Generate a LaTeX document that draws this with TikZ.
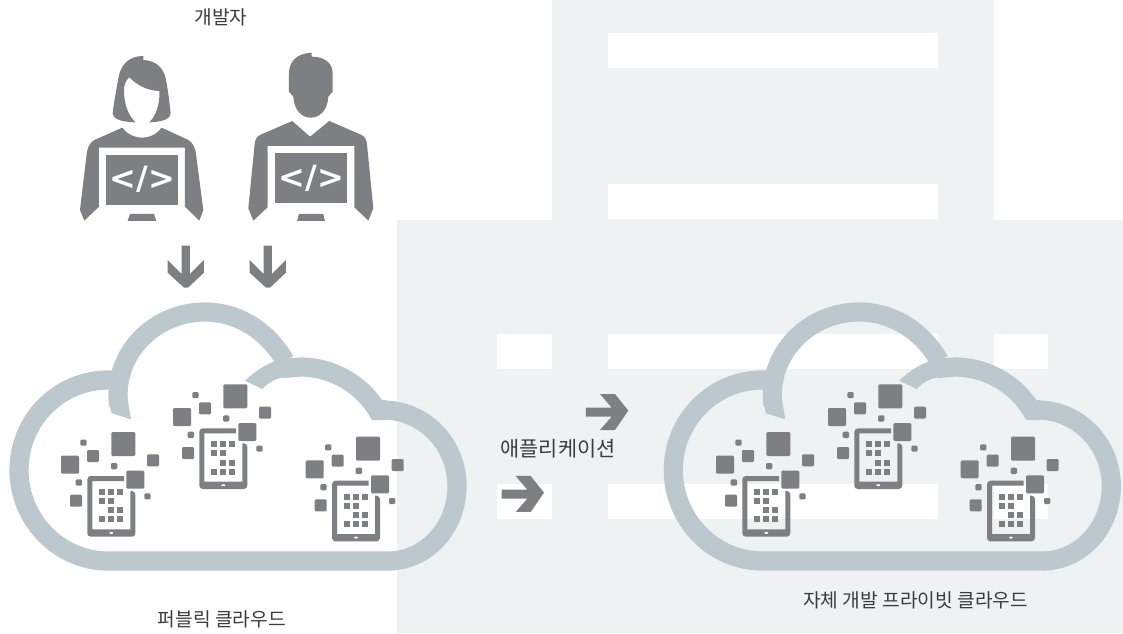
\documentclass[tikz,border=0pt]{standalone}
\usepackage{fontspec}
\setmainfont{Noto Sans CJK KR}
\newfontfamily\codefont{DejaVu Sans Bold}
\definecolor{icongray}{HTML}{7E7F83}
\definecolor{cloudblue}{HTML}{BCC8CE}
\definecolor{panelbg}{HTML}{EEF2F3}
\definecolor{labeltext}{HTML}{3C3C3C}
\tikzset{
  panel/.style={fill=panelbg,draw=none},
  gap/.style={fill=white,draw=none},
  icon/.style={fill=icongray,draw=none},
  chip/.style={fill=icongray,draw=none,rounded corners=1.2pt},
  cloudline/.style={draw=cloudblue,line width=19.2pt,line cap=butt,line join=bevel},
  cloudfill/.style={fill=cloudblue,draw=none},
  caption/.style={font=\fontsize{19.2}{21}\selectfont,text=labeltext,inner sep=0pt,anchor=center},
  widecaption/.style={font=\fontsize{20.8}{22}\selectfont,text=labeltext,inner sep=0pt,anchor=center},
  codetext/.style={font=\codefont\fontsize{32}{34}\selectfont,text=white,inner sep=0pt,anchor=center}
}
\newcommand{\tabletgroup}[2]{%
  \begin{scope}[shift={(#1,#2)}]
    \foreach \xa/\ya/\xb/\yb in {111.3/432/135.3/456,61/455.7/79/473.7,87/450/99/462,80.3/439.7/86.7/445.7,147/454.3/159/466.3,111/463/117.3/469.3,126.3/470.7/144.3/488.7,75.7/479.3/82/485.7,70/494.7/82/506.7,144.3/493.3/150.7/499.3}
      {\fill[chip] (\xa,\ya) rectangle (\xb,\yb);}
    \fill[icon,even odd rule] [rounded corners=3.5pt] (124,476) -- (87.3,476) -- (87.3,536.7) -- (135.3,536.7) -- (135.3,491) [sharp corners] -- (130.3,491) -- (130.3,529.3) -- (92.3,529.3) -- (92.3,481) -- (124,481) -- cycle;
    \foreach \cx/\ry in {99/489,108.3/489,117.3/489,99/498,108.3/498,108.3/507.3,117.3/507.3,99/516.3,108.3/516.3,117.3/516.3}
      {\fill[icon] (\cx,\ry) rectangle +(6,6);}
    \fill[white] (111.3,532.9) ellipse (2pt and 1pt);
  \end{scope}}
\newcommand{\cloudshape}[1]{%
  \begin{scope}[shift={(#1,0)}]
    \draw[cloudline] (120,380) -- (108,380) .. controls (59,380) and (19,420) .. (19,470) .. controls (19,520) and (59,561) .. (108,561) -- (388,561) .. controls (426,561) and (457,528) .. (457,486) .. controls (457,444) and (424,410) .. (383,410);
    \draw[cloudline] (380,415) .. controls (364,385) and (333,367) .. (300,367) -- (283,368.5);
    \fill[cloudfill] (383,400) -- (371.7,420) -- (386,420) -- (386,400) -- cycle;
    \fill[cloudfill] (284,358.5) .. controls (268,362) and (255,371) .. (245,380.7) -- (262.3,389) .. controls (268,383) and (276,378) .. (284,377.5) -- cycle;
    \draw[cloudline] (118.8,405) .. controls (118.2,401) and (118,398) .. (118,395) .. controls (118,349) and (157,312) .. (205,312) .. controls (238,312) and (268,331) .. (285,361);
    \fill[cloudfill] (109.2,404) -- (128.4,404) -- (131,419.3) -- (111.7,413.3) -- cycle;
  \end{scope}}
\begin{document}
\begin{tikzpicture}[x=1pt,y=-1pt]
\useasboundingbox (0,0) rectangle (1123,633);
% backdrop
\fill[panel] (552,0) rectangle (994,220);
\fill[panel] (397.3,219.7) rectangle (1123,633);
\foreach \xa/\ya/\xb/\yb in {607.7/33.3/938/68.3,607.7/184/938/218.7,497/334/552/369,607.7/334/938/369,993.7/334/1047.7/369,497/484.3/552/519,607.7/484.3/938/519,993.7/484.3/1047.7/519}
  {\fill[gap] (\xa,\ya) rectangle (\xb,\yb);}
% clouds
\cloudshape{0}
\cloudshape{654.3}
% tablets
\tabletgroup{0}{0}
\tabletgroup{112}{-47.7}
\tabletgroup{244.7}{4.7}
\tabletgroup{655}{0}
\tabletgroup{767}{-47.7}
\tabletgroup{899.7}{4.7}
% people
\begin{scope}[shift={(60,0)},x=0.3333pt,y=-0.3333pt]
  % woman
  \fill[icon] (250,168) .. controls (205,168) and (182,195) .. (175,235) .. controls (168,275) and (162,305) .. (158,340) .. controls (158,355) and (180,366) .. (226,367) .. controls (205,345) and (193,315) .. (192,275) .. controls (191,255) and (198,240) .. (208,232) .. controls (230,255) and (262,272) .. (298,273) .. controls (300,310) and (290,345) .. (268,367) .. controls (310,366) and (332,355) .. (332,340) .. controls (328,305) and (325,275) .. (318,240) .. controls (312,205) and (290,182) .. (250,180) -- cycle;
  \fill[icon] (187,383) .. controls (200,402) and (225,413) .. (247,413) .. controls (270,413) and (292,402) .. (305,383) -- (385,420) .. controls (398,428) and (405,440) .. (408,462) -- (430,630) -- (418,662) -- (375,620) -- (375,443) -- (117,443) -- (117,620) -- (73,662) -- (60,630) -- (80,462) .. controls (83,440) and (90,428) .. (103,420) -- cycle;
  \fill[icon] (137,465) rectangle (353,615);
  \fill[icon] (210,642) -- (282,642) -- (289,663) -- (203,663) -- cycle;
  % man
  \fill[icon] (755,158) .. controls (710,160) and (687,185) .. (687,220) -- (687,275) -- (700,290) .. controls (702,330) and (725,353) .. (752,353) .. controls (780,353) and (803,330) .. (805,290) -- (818,275) -- (818,220) .. controls (818,190) and (795,170) .. (755,170) -- cycle;
  \fill[icon] (697,363) -- (750,410) -- (808,363) -- (905,405) .. controls (915,410) and (920,420) .. (921,432) -- (940,625) -- (925,662) -- (883,622) -- (883,438) -- (623,438) -- (623,622) -- (580,662) -- (565,625) -- (584,432) .. controls (585,420) and (590,410) .. (600,405) -- cycle;
  \fill[icon] (644,459) rectangle (861,610);
  \fill[icon] (717,642) -- (790,642) -- (795,663) -- (711,663) -- cycle;
  % down arrows
  \foreach \dx in {0,246}{
    \fill[icon,shift={(\dx,0)}] (365,737) -- (390,737) -- (390,822) -- (432,780) -- (432,818) -- (384,863) -- (372,863) -- (323,818) -- (323,780) -- (365,822) -- cycle;}
  \node[codetext] (codeA) at (247,538) {</>};
  \node[codetext] (codeB) at (755,534) {</>};
\end{scope}
% right arrows
\begin{scope}[shift={(480,320)},x=0.3333pt,y=-0.3333pt]
  \foreach \dx/\dy in {0/0,-253/246}{
    \fill[icon,shift={(\dx,\dy)}] (318,263) -- (395,263) -- (360,222) -- (405,222) -- (445,272) -- (405,330) -- (360,330) -- (395,290) -- (318,290) -- cycle;}
\end{scope}
% labels
\node[caption] (devs) at (221,17) {개발자};
\node[caption] (public) at (221.7,619) {퍼블릭 클라우드};
\node[widecaption] (app) at (558,449) {애플리케이션};
\node[caption] (private) at (915.7,600.5) {자체 개발 프라이빗 클라우드};
\end{tikzpicture}
\end{document}
